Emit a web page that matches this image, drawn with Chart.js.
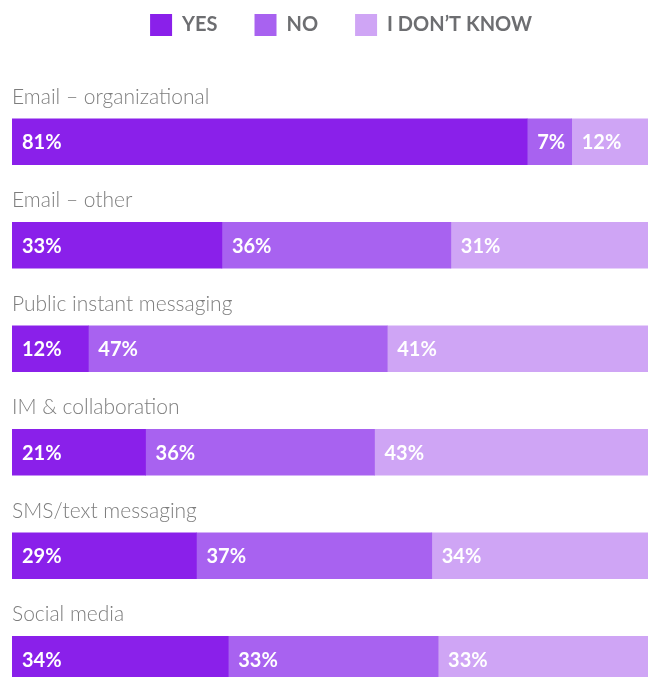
<!DOCTYPE html>
<html>
<head>
<meta charset="utf-8">
<script src="https://cdn.jsdelivr.net/npm/chart.js@4.4.0/dist/chart.umd.min.js"></script>
<style>
  html, body { margin: 0; padding: 0; background: #fff; overflow: hidden; }
  #wrap { width: 649px; height: 720px; }
</style>
</head>
<body>
<div id="wrap"><canvas id="chart"></canvas></div>
<script>
// categories and series (percent)
const categories = ['Email – organizational', 'Email – other', 'Public instant messaging',
    'IM & collaboration', 'SMS/text messaging', 'Social media'];
const yesValues = [81, 33, 12, 21, 29, 34];
const noValues = [7, 36, 47, 36, 37, 33];
const dontKnowValues = [12, 31, 41, 43, 34, 33];
const seriesNames = ['YES', 'NO', 'I DON\u2019T KNOW'];
const colors = ['#8a20ea', '#a862f0', '#cfa5f5'];

// extra room under the legend, and nudge it a bit to the right like the original
const legendGap = {
    id: 'legendGap',
    beforeInit(chart) {
        const origFit = chart.legend.fit;
        chart.legend.fit = function () {
            origFit.bind(chart.legend)();
            this.height += 44;
        };
    },
    afterLayout(chart) {
        chart.legend.left += 22;
    }
};

// draws category name above each bar + value text inside each segment
const barLabels = {
    id: 'barLabels',
    afterDatasetsDraw(chart) {
        const ctx = chart.ctx;
        ctx.save();
        // category labels
        const first = chart.getDatasetMeta(0);
        ctx.font = '300 21px Lato';
        ctx.fillStyle = '#7d7d7d';
        ctx.textBaseline = 'alphabetic';
        ctx.textAlign = 'left';
        first.data.forEach((bar, i) => {
            const top = bar.y - bar.height / 2;
            ctx.fillText(categories[i], chart.chartArea.left, top - 15);
        });
        // values
        ctx.font = 'bold 20px Lato';
        ctx.fillStyle = '#ffffff';
        ctx.textBaseline = 'middle';
        chart.data.datasets.forEach((ds, d) => {
            chart.getDatasetMeta(d).data.forEach((bar, i) => {
                const start = Math.min(bar.x, bar.base);
                ctx.fillText(ds.data[i] + '%', start + 10, bar.y + 1);
            });
        });
        ctx.restore();
    }
};

new Chart(document.getElementById('chart'), {
    type: 'bar',
    data: {
        labels: categories,
        datasets: [
            { label: seriesNames[0], data: yesValues, backgroundColor: colors[0] },
            { label: seriesNames[1], data: noValues, backgroundColor: colors[1] },
            { label: seriesNames[2], data: dontKnowValues, backgroundColor: colors[2] }
        ]
    },
    options: {
        indexAxis: 'y',
        responsive: true,
        maintainAspectRatio: false,
        animation: false,
        barThickness: 46,
        layout: { padding: { left: 12, right: 1, top: -23, bottom: 9 } },
        scales: {
            x: { stacked: true, min: 0, max: 100, display: false },
            y: { stacked: true, display: false }
        },
        plugins: {
            tooltip: { enabled: false },
            legend: {
                position: 'top',
                align: 'center',
                labels: {
                    boxWidth: 22,
                    boxHeight: 22,
                    padding: 37,
                    color: '#6d6e71',
                    font: { family: 'Lato', size: 20, weight: 'bold' }
                }
            }
        }
    },
    plugins: [legendGap, barLabels]
});
</script>
</body>
</html>
